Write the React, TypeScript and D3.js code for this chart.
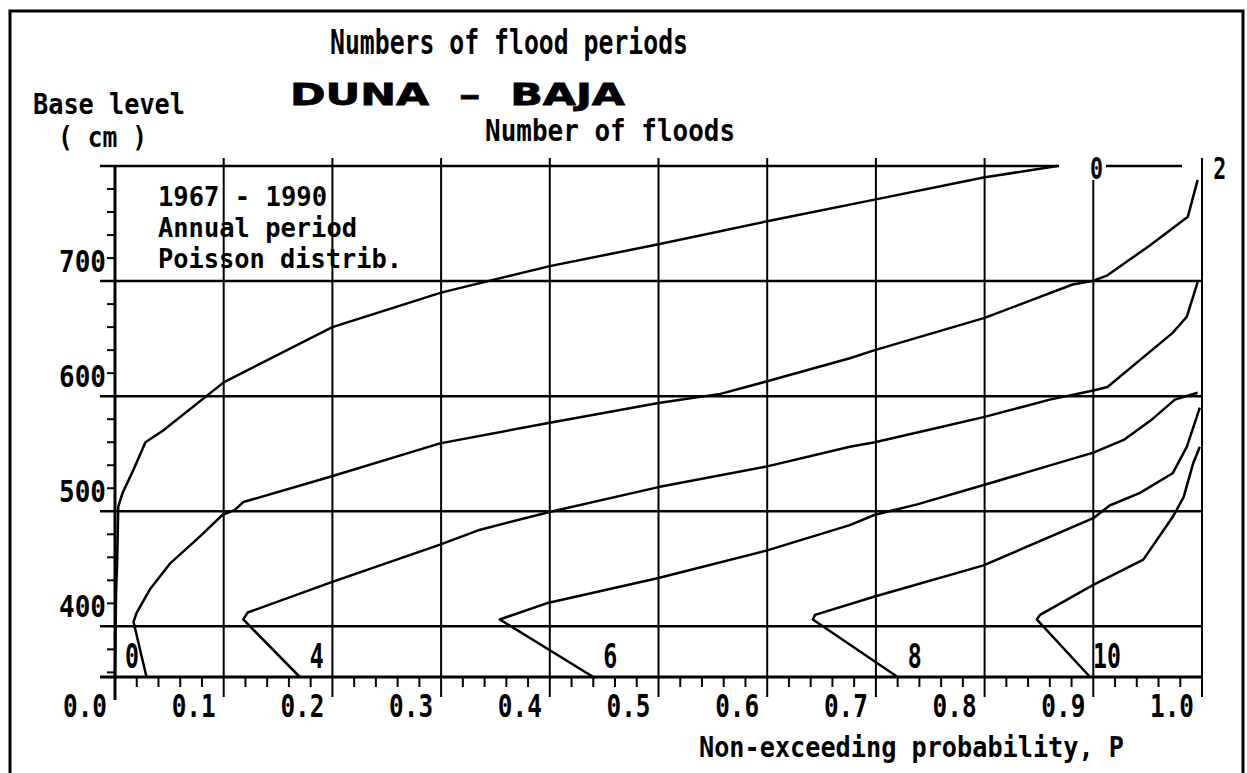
import * as d3 from "d3";
import { useEffect, useRef } from "react";

// non-exceeding probability P vs base level (cm), one array per number of floods
const floods = ["0", "2", "4", "6", "8", "10"];
const curve0 = [
  [0, 356], [0.001, 430], [0.002, 457], [0.003, 504], [0.007, 516], [0.017, 536],
  [0.028, 560], [0.044, 570], [0.1, 612], [0.2, 660], [0.3, 690], [0.4, 713],
  [0.5, 732], [0.6, 752], [0.7, 771], [0.799, 790], [0.867, 800],
];
const curve2 = [
  [0.029, 356], [0.017, 404], [0.02, 412], [0.032, 432], [0.051, 455], [0.078, 478],
  [0.099, 497], [0.11, 501], [0.118, 508], [0.198, 530], [0.299, 559], [0.4, 577],
  [0.5, 594], [0.557, 602], [0.6, 613], [0.676, 633], [0.699, 640], [0.8, 668],
  [0.881, 697], [0.899, 700], [0.913, 705], [0.952, 731], [0.987, 756], [0.996, 788],
];
const curve4 = [
  [0.17, 356], [0.118, 406], [0.122, 412], [0.198, 438], [0.299, 471], [0.336, 484],
  [0.398, 499], [0.5, 521], [0.6, 539], [0.676, 556], [0.699, 560], [0.75, 571],
  [0.8, 582], [0.86, 597], [0.9, 605], [0.913, 608], [0.973, 655], [0.986, 669],
  [0.996, 699],
];
const curve6 = [
  [0.44, 356], [0.354, 406], [0.397, 420], [0.5, 442], [0.6, 466], [0.676, 488],
  [0.699, 497], [0.738, 506], [0.8, 523], [0.9, 551], [0.928, 562], [0.953, 579],
  [0.975, 597], [0.996, 603],
];
const curve8 = [
  [0.72, 356], [0.642, 406], [0.644, 410], [0.699, 426], [0.799, 453], [0.9, 494],
  [0.915, 505], [0.943, 516], [0.973, 533], [0.986, 556], [0.998, 590],
];
const curve10 = [
  [0.897, 356], [0.848, 406], [0.851, 410], [0.9, 436], [0.946, 458], [0.973, 495],
  [0.983, 512], [0.992, 542], [0.998, 556],
];
const curves = [curve0, curve2, curve4, curve6, curve8, curve10];
// which curve ends carry a label
const bottomLabelled = ["0", "4", "6", "8", "10"];
const topLabelled = ["0", "2"];

const xTicks = [0, 0.1, 0.2, 0.3, 0.4, 0.5, 0.6, 0.7, 0.8, 0.9, 1.0];
const yTicks = [400, 500, 600, 700, 800];
const yTickLabels = ["400", "500", "600", "700"];

const MONO = "'DejaVu Sans Mono', monospace";

const App = () => {
  const svgRef = useRef<SVGSVGElement>(null);
  useEffect(() => {
    if (!svgRef.current) return;
    const svg = d3.select(svgRef.current);
    svg.selectAll("*").remove();

    const x = d3.scaleLinear().domain([0, 1]).range([115, 1202]);
    const y = d3.scaleLinear().domain([356, 800]).range([677, 166]);

    svg.append("rect").attr("width", 1247).attr("height", 773).attr("fill", "white");
    // outer frame
    svg.append("rect")
      .attr("x", 10).attr("y", 11).attr("width", 1233).attr("height", 800)
      .attr("fill", "none").attr("stroke", "black").attr("stroke-width", 3);

    const text = (
      s: string, tx: number, ty: number, size: number, len: number | null,
      anchor = "start", family = MONO
    ) => {
      const t = svg.append("text")
        .attr("x", tx).attr("y", ty)
        .attr("font-family", family).attr("font-weight", "bold")
        .attr("font-size", size).attr("text-anchor", anchor)
        .style("white-space", "pre")
        .text(s);
      if (len) t.attr("textLength", len).attr("lengthAdjust", "spacingAndGlyphs");
      return t;
    };

    // grid
    const grid = svg.append("g").attr("stroke", "black");
    grid.selectAll()
      .data(yTicks)
      .join("line")
      .attr("x1", 100).attr("x2", (d) => (d === 800 ? 1182 : x(1)))
      .attr("y1", (d) => y(d)).attr("y2", (d) => y(d))
      .attr("stroke-width", 2.5);
    grid.selectAll()
      .data(xTicks.slice(1))
      .join("line")
      .attr("x1", (d) => x(d)).attr("x2", (d) => x(d))
      .attr("y1", 158).attr("y2", 697)
      .attr("stroke-width", 2);

    // axes
    svg.append("line").attr("x1", x(0)).attr("x2", x(0)).attr("y1", 165).attr("y2", 700)
      .attr("stroke", "black").attr("stroke-width", 3);
    svg.append("line").attr("x1", 100).attr("x2", x(1)).attr("y1", y(356)).attr("y2", y(356))
      .attr("stroke", "black").attr("stroke-width", 3);

    // minor ticks
    svg.append("g").attr("stroke", "black").attr("stroke-width", 2)
      .selectAll()
      .data(d3.range(1, 50).map((i) => i / 50).filter((_, i) => (i + 1) % 5 !== 0))
      .join("line")
      .attr("x1", (d) => x(d)).attr("x2", (d) => x(d))
      .attr("y1", y(356)).attr("y2", y(356) + 10);
    svg.append("g").attr("stroke", "black").attr("stroke-width", 2)
      .selectAll()
      .data(d3.range(360, 800, 20).filter((d) => d % 100 !== 0))
      .join("line")
      .attr("x1", x(0) - 8).attr("x2", x(0))
      .attr("y1", (d) => y(d)).attr("y2", (d) => y(d));

    // curves
    const line = d3.line<number[]>().x((d) => x(d[0])).y((d) => y(d[1]));
    svg.append("g").attr("fill", "none").attr("stroke", "black")
      .attr("stroke-width", 2.5).attr("stroke-linejoin", "round")
      .selectAll()
      .data(curves)
      .join("path")
      .attr("d", (d) => line(d as number[][]));

    // gap in the top line for the label of the "0" curve
    svg.append("rect").attr("x", 1059).attr("y", 150).attr("width", 47).attr("height", 30)
      .attr("fill", "white");

    // curve labels
    curves.forEach((c, i) => {
      const k = floods[i];
      if (bottomLabelled.includes(k)) {
        text(k, x(c[0][0]) + 17, 668, 34, k.length * 14, "middle");
      }
      if (topLabelled.includes(k)) {
        const end = c[c.length - 1];
        text(k, x(end[0]) + (k === "0" ? 39 : 22), 179, 30, 13, "middle");
      }
    });

    // tick labels
    xTicks.forEach((d) => text(d.toFixed(1), x(d) - 8, 717, 32, 44, "end"));
    yTickLabels.forEach((d) => text(d, x(0) - 9, y(+d) - 9, 30, 47, "end"));

    // titles
    text("Numbers of flood periods", 330, 54, 34, 358);
    text("DUNA  \u2013  BAJA", 290, 105, 31, 335, "start", "'DejaVu Sans', sans-serif")
      .attr("stroke", "black").attr("stroke-width", 0.8);
    text("Base level", 33, 114, 28, 152);
    text("( cm )", 58, 147, 28, 89);
    text("Number of floods", 485, 141, 30, 250);
    text("1967 - 1990", 158, 206, 26, 169);
    text("Annual period", 158, 237, 26, 199);
    text("Poisson distrib.", 158, 268, 26, 244);
    text("Non-exceeding probability, P", 699, 757, 28, 425);
  }, []);
  return (
    <svg
      ref={svgRef}
      width={1247}
      height={773}
      style={{ position: "absolute", left: 0, top: 0 }}
    ></svg>
  );
};

export default App;
